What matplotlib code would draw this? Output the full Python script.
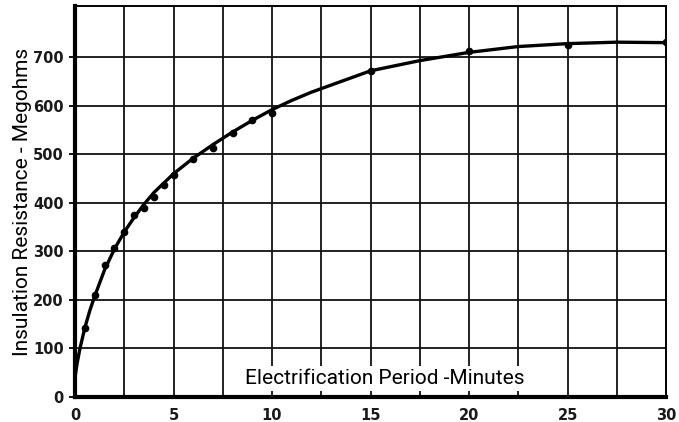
import matplotlib
matplotlib.use("Agg")
import matplotlib.pyplot as plt

# measured points (minutes, megohms)
t_pts = [0.5, 1.0, 1.5, 2.0, 2.5, 3.0, 3.5, 4.0, 4.5, 5.0, 6, 7, 8, 9, 10, 15, 20, 25, 30]
r_pts = [142, 210, 271, 306, 339, 375, 390, 412, 436, 458, 490, 514, 543, 571, 586, 672, 712, 726, 731]

# faired curve
t_curve = [0, 0.1, 0.25, 0.5, 0.75, 1.0, 1.5, 2.0, 2.5, 3.0, 3.5, 4.0, 5.0, 6, 7, 8, 9, 10,
           11, 12, 13.5, 15, 17.5, 20, 22.5, 25, 27.5, 30]
r_curve = [40, 68, 100, 143, 178, 208, 262, 305, 340, 370, 397, 421, 460, 492, 520, 546, 570, 592,
           611, 628, 650, 672, 693, 710, 722, 728, 731, 730]

x_ticks = [0, 5, 10, 15, 20, 25, 30]
y_ticks = [0, 100, 200, 300, 400, 500, 600, 700]

label_font = ["Roboto", "DejaVu Sans"]

fig = plt.figure(figsize=(6.79, 4.22), dpi=100, facecolor="white")
ax = fig.add_axes([0.1105, 0.0592, 0.8705, 0.926])

for gx in [2.5 * i for i in range(1, 12)]:
    ax.axvline(gx, color="#111111", lw=1.3, zorder=1)
for gy in y_ticks[1:]:
    ax.axhline(gy, color="#111111", lw=1.3, zorder=1)

ax.plot(t_curve, r_curve, color="black", lw=2.4, zorder=3, solid_capstyle="round")
ax.plot(t_pts, r_pts, "o", color="black", ms=4.5, zorder=4)

ax.set_xlim(0, 30)
ax.set_ylim(0, 805)
ax.set_xticks(x_ticks)
ax.set_yticks(y_ticks)
ax.tick_params(axis="x", length=0, pad=8, labelsize=10.5)
ax.tick_params(axis="y", length=4, width=1.3, pad=4, labelsize=10.5, direction="out")
for lab in ax.get_xticklabels() + ax.get_yticklabels():
    lab.set_fontweight("bold")
    lab.set_color("#1a1a1a")

ax.spines["left"].set_linewidth(3)
ax.spines["bottom"].set_linewidth(3)
ax.spines["top"].set_linewidth(1.4)
ax.spines["right"].set_linewidth(1.4)

ax.set_ylabel("Insulation Resistance - Megohms", family=label_font, fontsize=15)
ax.yaxis.set_label_coords(-0.073, 0.50)
ax.text(15.7, 38, "Electrification Period -Minutes", family=label_font, fontsize=15,
        ha="center", va="center", zorder=5,
        bbox=dict(facecolor="white", edgecolor="none", pad=2))

fig.savefig("out.png", dpi=100, facecolor="white")
